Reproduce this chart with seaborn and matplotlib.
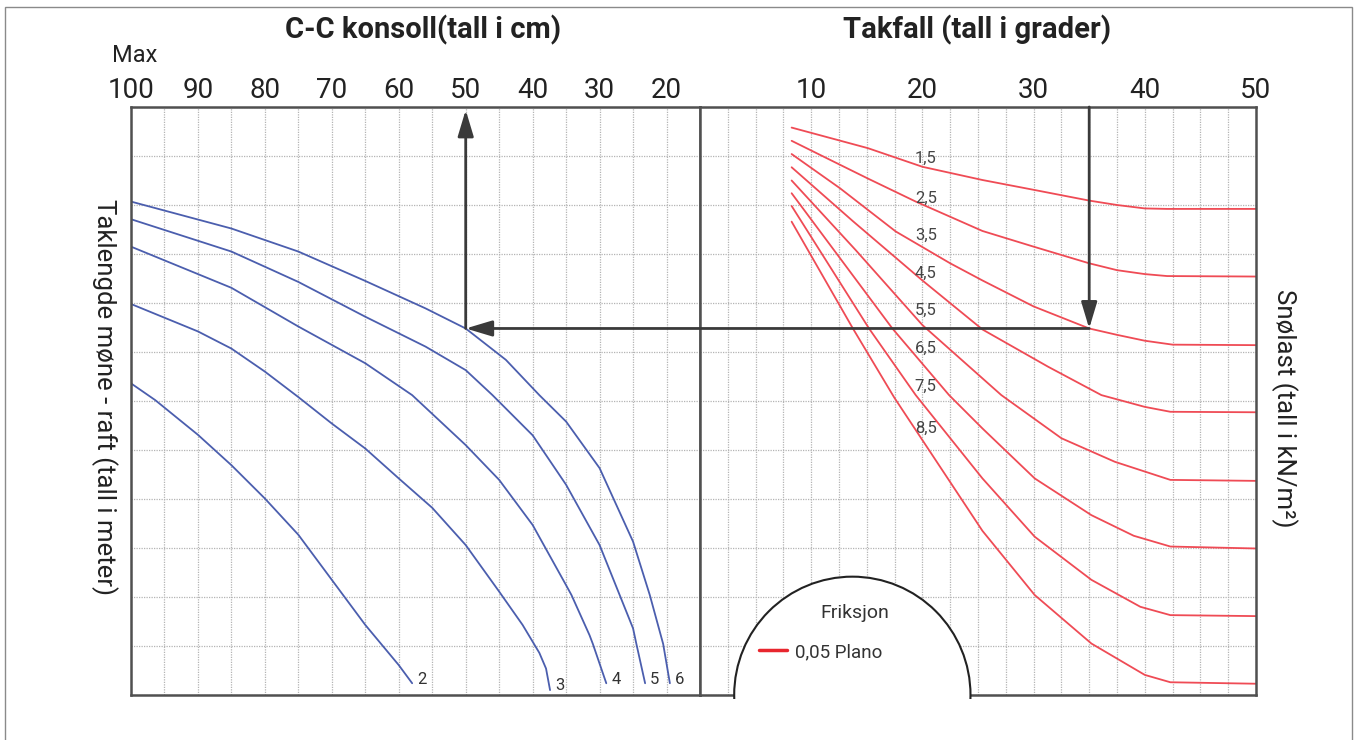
import numpy as np
import pandas as pd
import matplotlib
matplotlib.use("Agg")
import matplotlib.pyplot as plt
import seaborn as sns
from matplotlib.patches import Ellipse, Rectangle, ConnectionPatch
from matplotlib.lines import Line2D
from matplotlib.ticker import MultipleLocator

# ---------------- data ----------------
cc_ticks = [100, 90, 80, 70, 60, 50, 40, 30, 20]
pitch_ticks = [10, 20, 30, 40, 50]

# left panel: C-C konsoll (cm) -> taklengde (grid rows)
cc_labels = ["2", "3", "4", "5", "6"]
cc2_x = [100, 96.4, 90, 85, 80, 75, 70, 65, 60, 58]
cc2_y = [6.36, 6.02, 5.31, 4.69, 4.01, 3.27, 2.35, 1.43, 0.61, 0.24]
cc3_x = [100, 90, 85, 80, 75, 70, 65, 60, 55, 50, 45, 41.5, 39, 38, 37.4]
cc3_y = [7.98, 7.42, 7.07, 6.6, 6.08, 5.54, 5.03, 4.42, 3.82, 3.06, 2.11, 1.43, 0.86, 0.54, 0.10]
cc4_x = [100, 85, 75, 65, 58, 50, 45, 40, 35, 34.2, 31.5, 31, 29]
cc4_y = [9.15, 8.31, 7.52, 6.77, 6.12, 5.10, 4.39, 3.47, 2.24, 2.04, 1.22, 1.04, 0.24]
cc5_x = [100, 85, 75, 65, 56, 50, 46, 40, 35, 30, 27, 25, 24.5, 23.2]
cc5_y = [9.71, 9.05, 8.43, 7.72, 7.11, 6.63, 6.12, 5.30, 4.29, 3.06, 2.04, 1.36, 1.04, 0.24]
cc6_x = [100, 85, 75, 65, 56, 50, 44, 39, 35, 30, 25, 22.5, 20.5, 19.5]
cc6_y = [10.07, 9.52, 9.05, 8.45, 7.89, 7.48, 6.84, 6.12, 5.58, 4.63, 3.13, 2.04, 1.04, 0.24]

# right panel: takfall (grader) -> snølast (grid rows)
snow_labels = ["1,5", "2,5", "3,5", "4,5", "5,5", "6,5", "7,5", "8,5"]
s15_x = [8.24, 15.1, 20, 25.4, 30, 35, 37.5, 40, 42, 50]
s15_y = [11.58, 11.16, 10.78, 10.51, 10.31, 10.09, 10.0, 9.93, 9.92, 9.92]
s25_x = [8.24, 12.6, 15.1, 19.4, 25.4, 30, 35, 37.5, 40, 42, 50]
s25_y = [11.31, 10.82, 10.54, 10.07, 9.47, 9.15, 8.81, 8.67, 8.59, 8.55, 8.54]
s35_x = [8.24, 12.6, 17.6, 22.5, 25.4, 30, 35, 37.5, 40, 42.5, 50]
s35_y = [11.04, 10.34, 9.46, 8.81, 8.46, 7.93, 7.48, 7.35, 7.23, 7.15, 7.14]
s45_x = [8.24, 13.75, 20, 25.4, 31.3, 36.1, 40, 42.3, 50]
s45_y = [10.77, 9.67, 8.46, 7.46, 6.70, 6.12, 5.88, 5.78, 5.77]
s55_x = [8.24, 14, 20, 27.1, 32.5, 37.3, 42.3, 50]
s55_y = [10.50, 9.08, 7.55, 6.12, 5.24, 4.76, 4.39, 4.37]
s65_x = [8.24, 17.3, 22.4, 25.4, 30.1, 35.2, 39, 42.3, 50]
s65_y = [10.24, 7.48, 6.12, 5.44, 4.42, 3.67, 3.25, 3.03, 2.99]
s75_x = [8.24, 15.2, 19.4, 25.4, 30.1, 35.2, 39.6, 42.3, 50]
s75_y = [9.98, 7.48, 6.12, 4.42, 3.23, 2.35, 1.80, 1.63, 1.61]
s85_x = [8.24, 13.75, 17.47, 25.4, 30.1, 35.2, 40, 42.3, 50]
s85_y = [9.66, 7.48, 6.07, 3.35, 2.04, 1.05, 0.41, 0.26, 0.23]

snow_label_x = 20.3
snow_label_y = [10.95, 10.14, 9.39, 8.61, 7.86, 7.08, 6.29, 5.44]

# worked example shown with arrows
example_cc = 50
example_pitch = 35
example_level = 7.48

# ---------------- styling ----------------
sns.set_theme(style="white")
plt.rcParams["font.family"] = ["Roboto", "DejaVu Sans"]

BLUE = "#4b5eae"
RED = "#ef4b55"
FRAME = "#505050"
GRID = "#b4b4b4"
TXT = "#222222"

W, H = 1355, 740
fig = plt.figure(figsize=(W / 100, H / 100), dpi=100)
fig.patch.set_facecolor("white")

axL = fig.add_axes([131 / W, 1 - 695 / H, 569 / W, 588 / H])
axR = fig.add_axes([700 / W, 1 - 695 / H, 556 / W, 588 / H])

left_df = pd.concat([
    pd.DataFrame({"cc": x, "len": y, "curve": lab})
    for lab, x, y in zip(cc_labels,
                         [cc2_x, cc3_x, cc4_x, cc5_x, cc6_x],
                         [cc2_y, cc3_y, cc4_y, cc5_y, cc6_y])
])
right_xs = [s15_x, s25_x, s35_x, s45_x, s55_x, s65_x, s75_x, s85_x]
right_ys = [s15_y, s25_y, s35_y, s45_y, s55_y, s65_y, s75_y, s85_y]
right_df = pd.concat([
    pd.DataFrame({"pitch": x, "snow": y, "curve": lab})
    for lab, x, y in zip(snow_labels, right_xs, right_ys)
])

sns.lineplot(data=left_df, x="cc", y="len", units="curve", estimator=None,
             sort=False, color=BLUE, lw=1.3, ax=axL)
sns.lineplot(data=right_df, x="pitch", y="snow", units="curve", estimator=None,
             sort=False, color=RED, lw=1.3, ax=axR)

grid_kw = dict(color=GRID, linestyle=(0, (1, 1)), lw=0.9)
for ax, xlim, ticks, minor in [(axL, (100, 15), cc_ticks, 5),
                               (axR, (0, 50), pitch_ticks, 2.5)]:
    ax.set_xlim(*xlim)
    ax.set_ylim(0, 12)
    ax.xaxis.tick_top()
    ax.set_xticks(ticks)
    ax.set_xticklabels([str(t) for t in ticks])
    ax.xaxis.set_minor_locator(MultipleLocator(minor))
    ax.set_yticks(range(0, 13))
    ax.set_yticklabels([])
    ax.tick_params(which="both", length=0)
    ax.tick_params(axis="x", labelsize=20, pad=2, colors=TXT)
    ax.grid(True, which="both", axis="x", **grid_kw)
    ax.grid(True, which="major", axis="y", **grid_kw)
    ax.set_xlabel("")
    ax.set_ylabel("")
    for sp in ax.spines.values():
        sp.set_color(FRAME)
        sp.set_linewidth(1.8)

# curve labels
for lab, x, y in zip(cc_labels, [cc2_x, cc3_x, cc4_x, cc5_x, cc6_x],
                     [cc2_y, cc3_y, cc4_y, cc5_y, cc6_y]):
    axL.annotate(lab, (x[-1], y[-1]), xytext=(3.5, 3), textcoords="offset points",
                 ha="left", va="center", fontsize=12, color="#333333")
for lab, y in zip(snow_labels, snow_label_y):
    axR.text(snow_label_x, y, lab, ha="center", va="center", fontsize=12,
             color="#444444")

# worked example arrows
astyle = "-|>,head_length=0.8,head_width=0.24"
akw = dict(arrowstyle=astyle, color="#3a3a3a", lw=2, mutation_scale=20,
           shrinkA=0, shrinkB=0)
axL.annotate("", xy=(example_cc, 11.94), xytext=(example_cc, example_level),
             arrowprops=akw)
axR.annotate("", xy=(example_pitch, example_level), xytext=(example_pitch, 12),
             arrowprops=akw)
con = ConnectionPatch(xyA=(example_pitch, example_level), coordsA=axR.transData,
                      xyB=(example_cc, example_level), coordsB=axL.transData,
                      zorder=6, **akw)
fig.add_artist(con)

# Friksjon arch with legend
ell = Ellipse((13.7, 0), 21.25, 4.83, facecolor="white", edgecolor="#222222",
              lw=1.5, zorder=5)
axR.add_patch(ell)
ell.set_clip_path(Rectangle((0, -0.08), 50, 12.2, transform=axR.transData))
axR.text(13.9, 1.67, "Friksjon", ha="center", va="center", fontsize=14,
         color="#333333", zorder=7)
leg = axR.legend(handles=[Line2D([], [], color="#e8262e", lw=2.5)],
                 labels=["0,05 Plano"], frameon=False, loc="center left",
                 bbox_to_anchor=(5.27, 0.88), bbox_transform=axR.transData,
                 borderpad=0, borderaxespad=0, handlelength=1.5,
                 handletextpad=0.45, fontsize=13.5)
for t in leg.get_texts():
    t.set_color("#333333")
leg.set_zorder(8)

# titles and axis texts
fig.text(423 / W, 1 - 30 / H, "C-C konsoll(tall i cm)", ha="center", va="center",
         fontsize=21, weight="bold", color=TXT)
fig.text(977 / W, 1 - 30 / H, "Takfall (tall i grader)", ha="center", va="center",
         fontsize=21, weight="bold", color=TXT)
fig.text(135 / W, 1 - 56 / H, "Max", ha="center", va="center", fontsize=17,
         color=TXT)
fig.text(104 / W, 1 - 397 / H, "Taklengde møne - raft (tall i meter)",
         rotation=270, ha="center", va="center", fontsize=18.5, color=TXT)
fig.text(1284 / W, 1 - 408 / H, "Snølast (tall i kN/m²)",
         rotation=270, ha="center", va="center", fontsize=18.5, color=TXT)

# outer border
fig.patches.append(Rectangle((5 / W, -0.05), 1347 / W, 1.05 - 7 / H,
                             transform=fig.transFigure, fill=False,
                             ec="#8a8a8a", lw=1))

fig.savefig("out.png", dpi=100)
